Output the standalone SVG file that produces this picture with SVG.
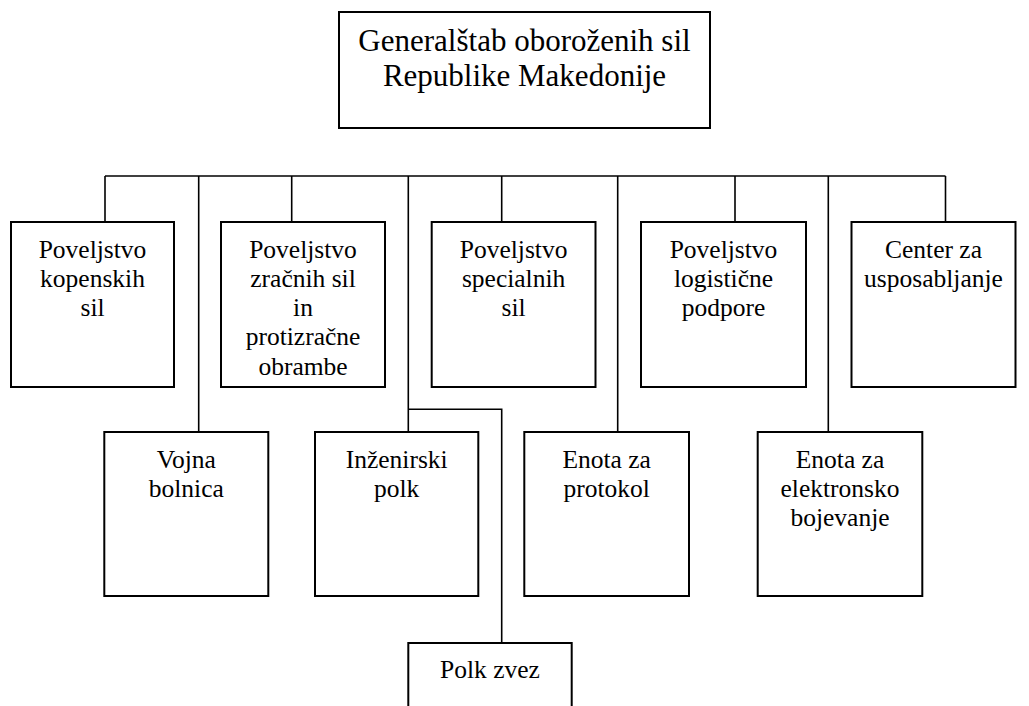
<svg xmlns="http://www.w3.org/2000/svg" width="1029" height="706" viewBox="0 0 1029 706">
<style>
.box{fill:#fff;stroke:#000;stroke-width:2}
.con{fill:none;stroke:#000;stroke-width:1.6}
text{font-family:'Liberation Serif','Times New Roman','DejaVu Serif',serif;fill:#000;text-anchor:middle}
.t{font-size:25.5px}
.h{font-size:31px}
</style>
<rect width="1029" height="706" fill="#fff"/>
<g id="connectors">
<path class="con" d="M105 176H945.5"/>
<path class="con" d="M105 176V222M291.7 176V222M501.7 176V222M735 176V222M945.5 176V222"/>
<path class="con" d="M198.7 176V432M408.3 176V432M617.7 176V432M828.3 176V432"/>
<path class="con" d="M408.3 409.3H501.7V643"/>
</g>
<g font-family="Liberation Serif, serif">
<g id="n0"><rect class="box" x="339" y="12" width="371" height="116"/>
<text class="h" x="524.5" y="51">Generalštab oboroženih sil</text>
<text class="h" x="524.5" y="86">Republike Makedonije</text></g>
<g id="n1"><rect class="box" x="11" y="222" width="163" height="165"/>
<text class="t" x="92.5" y="257.5">Poveljstvo</text>
<text class="t" x="92.5" y="286.8">kopenskih</text>
<text class="t" x="92.5" y="316.1">sil</text></g>
<g id="n2"><rect class="box" x="221" y="222" width="164" height="165"/>
<text class="t" x="303" y="257.5">Poveljstvo</text>
<text class="t" x="303" y="286.8">zračnih sil</text>
<text class="t" x="303" y="316.1">in</text>
<text class="t" x="303" y="345.4">protizračne</text>
<text class="t" x="303" y="374.7">obrambe</text></g>
<g id="n3"><rect class="box" x="431.7" y="222" width="163.8" height="165"/>
<text class="t" x="513.6" y="257.5">Poveljstvo</text>
<text class="t" x="513.6" y="286.8">specialnih</text>
<text class="t" x="513.6" y="316.1">sil</text></g>
<g id="n4"><rect class="box" x="641" y="222" width="165" height="165"/>
<text class="t" x="723.5" y="257.5">Poveljstvo</text>
<text class="t" x="723.5" y="286.8">logistične</text>
<text class="t" x="723.5" y="316.1">podpore</text></g>
<g id="n5"><rect class="box" x="851.5" y="222" width="164" height="165"/>
<text class="t" x="933.5" y="257.5">Center za</text>
<text class="t" x="933.5" y="286.8">usposabljanje</text></g>
<g id="n6"><rect class="box" x="104.3" y="432" width="164" height="164"/>
<text class="t" x="186.3" y="467.5">Vojna</text>
<text class="t" x="186.3" y="496.8">bolnica</text></g>
<g id="n7"><rect class="box" x="315" y="432" width="163.3" height="164"/>
<text class="t" x="396.7" y="467.5">Inženirski</text>
<text class="t" x="396.7" y="496.8">polk</text></g>
<g id="n8"><rect class="box" x="524.3" y="432" width="164.7" height="164"/>
<text class="t" x="606.7" y="467.5">Enota za</text>
<text class="t" x="606.7" y="496.8">protokol</text></g>
<g id="n9"><rect class="box" x="757.7" y="432" width="164.6" height="164"/>
<text class="t" x="840" y="467.5">Enota za</text>
<text class="t" x="840" y="496.8">elektronsko</text>
<text class="t" x="840" y="526.1">bojevanje</text></g>
<g id="n10"><rect class="box" x="408.3" y="643" width="163.4" height="164"/>
<text class="t" x="490" y="677.5">Polk zvez</text></g>
</g>
</svg>
